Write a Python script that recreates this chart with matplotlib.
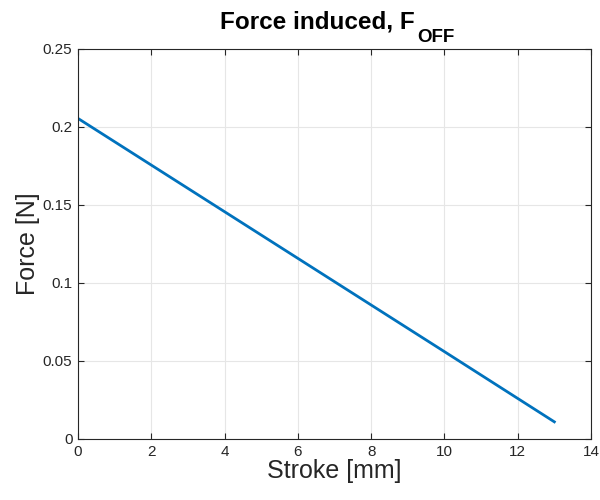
import matplotlib
matplotlib.use('Agg')
import matplotlib.pyplot as plt

plt.rcParams['font.family'] = ['Liberation Sans', 'DejaVu Sans']

stroke = [0, 2, 4, 6, 8, 10, 12, 13]
force = [0.2055, 0.1756, 0.1457, 0.1158, 0.0859, 0.0560, 0.0260, 0.0110]
xticks = [0, 2, 4, 6, 8, 10, 12, 14]
yticks = [0, 0.05, 0.1, 0.15, 0.2, 0.25]
ytick_labels = ['0', '0.05', '0.1', '0.15', '0.2', '0.25']

fig = plt.figure(figsize=(6, 5), dpi=100)
ax = fig.add_axes([0.13, 0.122, 0.855, 0.78])

ax.plot(stroke, force, color='#0072BD', linewidth=2)

ax.set_xlim(0, 14)
ax.set_ylim(0, 0.25)
ax.set_xticks(xticks)
ax.set_yticks(yticks)
ax.set_yticklabels(ytick_labels)
ax.grid(True, color='#e6e6e6', linewidth=0.8)
ax.set_axisbelow(True)
ax.tick_params(direction='in', top=True, right=True, labelsize=11, length=4,
               color='#262626', labelcolor='#262626', pad=4)
for s in ax.spines.values():
    s.set_color('#262626')
    s.set_linewidth(0.8)

ax.set_xlabel('Stroke [mm]', fontsize=18, color='#262626', labelpad=0)
ax.set_ylabel('Force [N]', fontsize=18, color='#262626', labelpad=2)

# title with a large, low subscript like MATLAB's tex interpreter
fig.text(415 / 600, 1 - 29 / 500, 'Force induced, F', fontsize=17.5, fontweight='bold',
         ha='right', va='baseline')
fig.text(417 / 600, 1 - 42 / 500, 'OFF', fontsize=13.5, fontweight='bold',
         ha='left', va='baseline')

fig.savefig('out.png', dpi=100)
